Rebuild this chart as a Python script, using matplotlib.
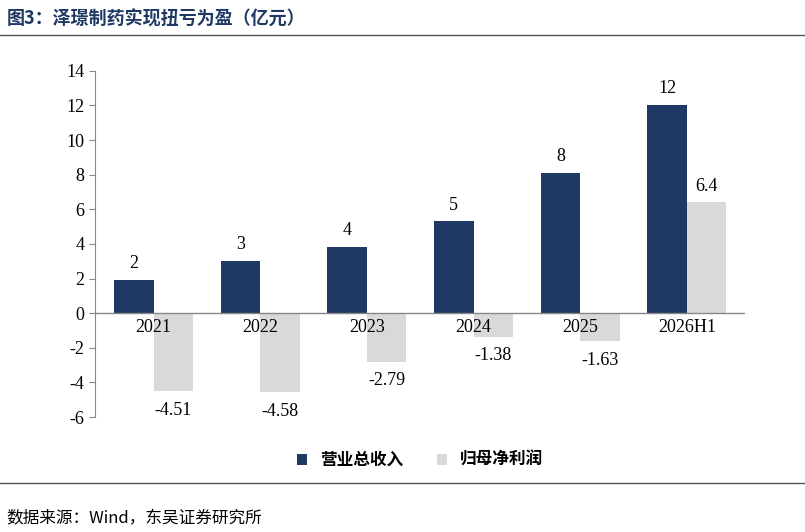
import matplotlib
matplotlib.use("Agg")
import matplotlib.pyplot as plt
import numpy as np

plt.rcParams['font.family'] = ['Liberation Serif', 'Noto Sans CJK SC']

categories = ['2021', '2022', '2023', '2024', '2025', '2026H1']
revenue = [1.9, 3.0, 3.85, 5.3, 8.1, 12.05]
revenue_labels = ['2', '3', '4', '5', '8', '12']
profit = [-4.51, -4.58, -2.79, -1.38, -1.63, 6.4]
profit_labels = ['-4.51', '-4.58', '-2.79', '-1.38', '-1.63', '6.4']
yticks = [-6, -4, -2, 0, 2, 4, 6, 8, 10, 12, 14]

navy = '#1F3864'
grey = '#D9D9D9'

fig = plt.figure(figsize=(8.05, 5.32), dpi=100)
ax = fig.add_axes([0.118, 0.216, 0.808, 0.651])
x = np.arange(len(categories))
w = 0.37
ax.bar(x - w/2, revenue, w, color=navy, label='营业总收入')
ax.bar(x + w/2, profit, w, color=grey, label='归母净利润')
ax.set_ylim(-6, 14)
ax.set_xlim(-0.55, len(categories) - 0.45)
ax.set_yticks(yticks)
ax.set_yticklabels([str(t) for t in yticks], fontsize=13)
ax.set_xticks([])
for s in ['top', 'right', 'bottom']:
    ax.spines[s].set_visible(False)
ax.spines['left'].set_color('#888888')
ax.axhline(0, color='#888888', lw=1)
ax.tick_params(axis='y', length=4, color='#888888')

for i, c in enumerate(categories):
    ax.text(i, -0.35, c, ha='center', va='top', fontsize=13)
for i, (v, l) in enumerate(zip(revenue, revenue_labels)):
    ax.text(i - w/2, v + 0.45, l, ha='center', va='bottom', fontsize=13)
for i, (v, l) in enumerate(zip(profit, profit_labels)):
    if v >= 0:
        ax.text(i + w/2, v + 0.45, l, ha='center', va='bottom', fontsize=13)
    else:
        ax.text(i + w/2, v - 0.6, l, ha='center', va='top', fontsize=13)

leg = ax.legend(loc='upper center', bbox_to_anchor=(0.5, -0.055), ncol=2, frameon=False,
                prop={'family': ['Noto Sans CJK SC'], 'weight': 'bold', 'size': 12},
                handlelength=0.6, handleheight=0.6, columnspacing=2.0)

fig.text(0.008, 0.965, '图3：泽璟制药实现扭亏为盈（亿元）', fontsize=13, fontweight='bold',
         color=navy, family=['Noto Sans CJK SC'], va='center')
fig.add_artist(plt.Line2D([0, 1], [0.935, 0.935], color='#555555', lw=1))
fig.add_artist(plt.Line2D([0, 1], [0.092, 0.092], color='#555555', lw=1))
fig.text(0.008, 0.025, '数据来源：Wind，东吴证券研究所', fontsize=12,
         family=['Noto Sans CJK SC'], va='center')

fig.savefig('out.png', dpi=100)
